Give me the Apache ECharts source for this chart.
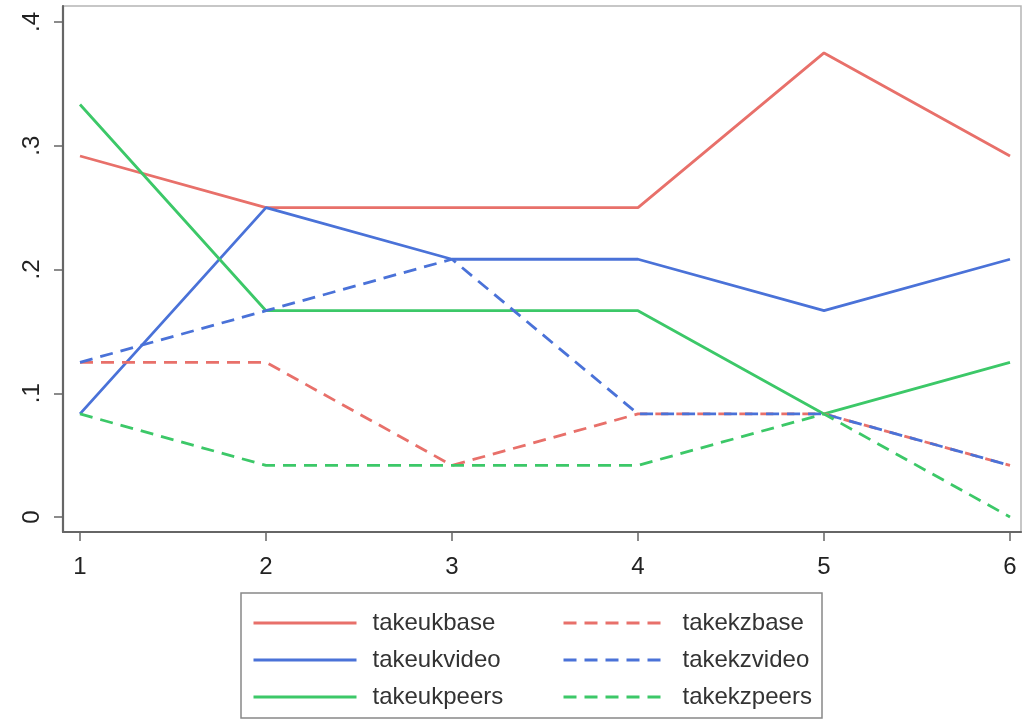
<!DOCTYPE html>
<html><head><meta charset="utf-8">
<script src="https://cdn.jsdelivr.net/npm/echarts@6/dist/echarts.min.js"></script>
<style>html,body{margin:0;padding:0;background:#fff}#c{width:1028px;height:721px}</style>
</head><body><div id="c"></div>
<script>
const xValues = [1, 2, 3, 4, 5, 6];
const yTicks = [0, 0.1, 0.2, 0.3, 0.4];
const yTickLabels = ['0', '.1', '.2', '.3', '.4'];
const takeukbase  = [0.2917, 0.25, 0.25, 0.25, 0.375, 0.2917];
const takeukvideo = [0.0833, 0.25, 0.2083, 0.2083, 0.1667, 0.2083];
const takeukpeers = [0.3333, 0.1667, 0.1667, 0.1667, 0.0833, 0.125];
const takekzbase  = [0.125, 0.125, 0.0417, 0.0833, 0.0833, 0.0417];
const takekzvideo = [0.125, 0.1667, 0.2083, 0.0833, 0.0833, 0.0417];
const takekzpeers = [0.0833, 0.0417, 0.0417, 0.0417, 0.0833, 0];

const RED = '#e8706a', BLUE = '#4a72d8', GREEN = '#3cc868';
function mk(name, vals, color, dashed) {
  return {
    name, type: 'line', symbol: 'none', silent: true,
    data: xValues.map((x, i) => [x, vals[i]]),
    lineStyle: { color, width: 2.8, type: dashed ? [13, 8] : 'solid' },
    itemStyle: { color },
    z: dashed ? 3 : 2
  };
}
const chart = echarts.init(document.getElementById('c'));
const font = 'Liberation Sans, Arial, sans-serif';
const legendText = { fontSize: 24, lineHeight: 24, fontFamily: font, color: '#333', padding: [0, 0, 0, 11] };
chart.setOption({
  animation: false,
  backgroundColor: '#fff',
  grid: { left: 63, right: 7, top: 6, bottom: 189, show: true, borderColor: '#b5b5b5', borderWidth: 1.5 },
  xAxis: {
    type: 'value', min: 0.9086, max: 6.0591,
    axisLine: { show: true, onZero: false, lineStyle: { color: '#666', width: 2.2 } },
    axisTick: { show: true, inside: false, length: 9, customValues: xValues, lineStyle: { color: '#666', width: 1.5 } },
    splitLine: { show: false },
    axisLabel: { customValues: xValues, color: '#222', fontSize: 24, fontFamily: font, margin: 23 }
  },
  yAxis: {
    type: 'value', min: -0.01212, max: 0.41293,
    axisLine: { show: true, onZero: false, lineStyle: { color: '#666', width: 2.2 } },
    axisTick: { show: true, inside: false, length: 9, customValues: yTicks, lineStyle: { color: '#666', width: 1.5 } },
    splitLine: { show: false },
    axisLabel: {
      customValues: yTicks,
      color: '#222', fontSize: 24, fontFamily: font, rotate: 90, margin: 19,
      formatter: v => { const i = yTicks.findIndex(t => Math.abs(t - v) < 1e-6); return i >= 0 ? yTickLabels[i] : ''; }
    }
  },
  legend: [
    { data: ['takeukbase', 'takeukvideo', 'takeukpeers'], orient: 'vertical', left: 252, top: 611, padding: 0,
      itemWidth: 103, itemHeight: 14, itemGap: 13, itemStyle: { opacity: 0 }, lineStyle: { width: 3 }, textStyle: legendText },
    { data: ['takekzbase', 'takekzvideo', 'takekzpeers'], orient: 'vertical', left: 562, top: 611, padding: 0,
      itemWidth: 103, itemHeight: 14, itemGap: 13, itemStyle: { opacity: 0 }, lineStyle: { width: 3 }, textStyle: legendText }
  ],
  graphic: [
    { type: 'rect', shape: { x: 241, y: 593, width: 581, height: 125 }, style: { fill: 'none', stroke: '#888', lineWidth: 1.5 }, silent: true }
  ],
  series: [
    mk('takeukbase', takeukbase, RED, false),
    mk('takeukvideo', takeukvideo, BLUE, false),
    mk('takeukpeers', takeukpeers, GREEN, false),
    mk('takekzbase', takekzbase, RED, true),
    mk('takekzvideo', takekzvideo, BLUE, true),
    mk('takekzpeers', takekzpeers, GREEN, true)
  ]
});
</script></body></html>
